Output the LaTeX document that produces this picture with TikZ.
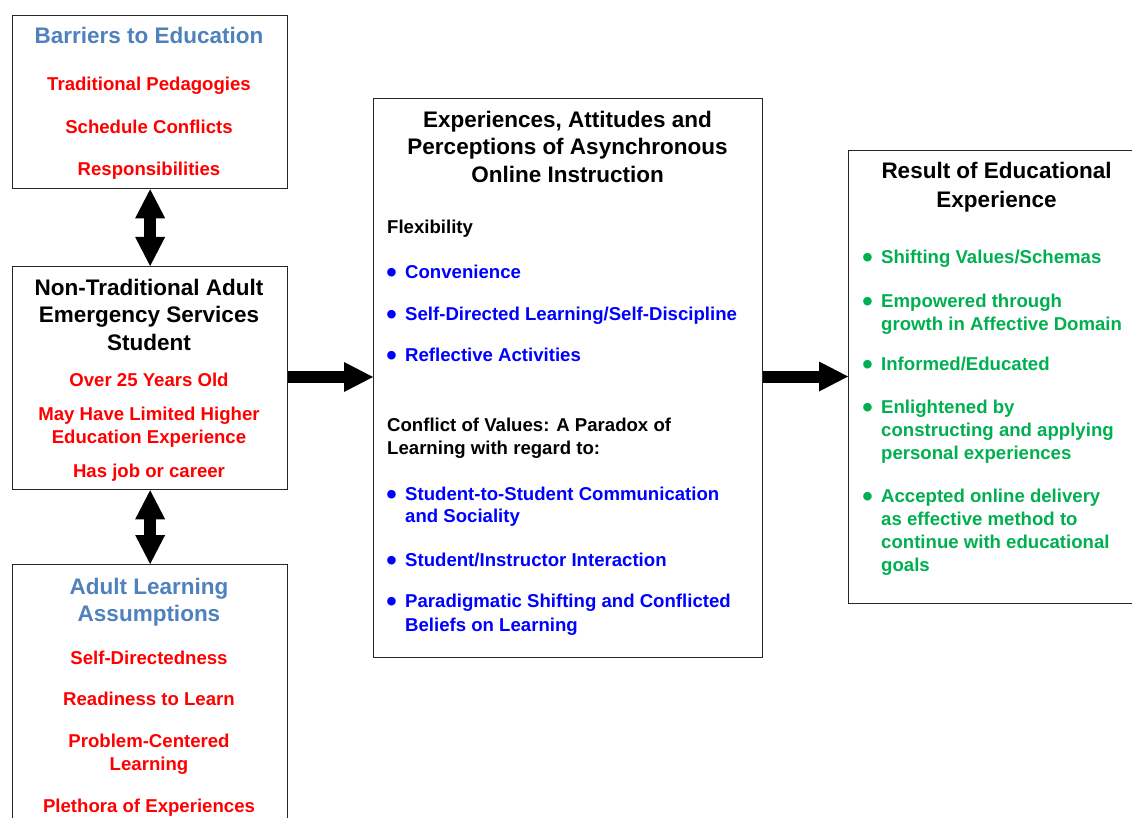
\documentclass[tikz,border=0pt]{standalone}
\usepackage{fontspec}
\usepackage{graphicx}
\setmainfont{Liberation Sans}
\usetikzlibrary{arrows.meta}
\definecolor{ttlblue}{HTML}{4F81BD}
\definecolor{itred}{HTML}{FF0000}
\definecolor{itblue}{HTML}{0000FF}
\definecolor{itgreen}{HTML}{00B050}
\begin{document}
\begin{tikzpicture}[x=1pt,y=-1pt,
  box/.style={draw=black!85,line width=1.3pt,fill=white,inner sep=0pt,anchor=north west},
  txt/.style={inner sep=0pt,text height=13pt,text depth=0pt,font=\bfseries\fontsize{18.6}{22}\selectfont},
  ttl/.style={inner sep=0pt,text height=16pt,text depth=0pt,font=\bfseries\fontsize{22.5}{27}\selectfont},
  lt/.style={txt,anchor=west},
  bul/.style={txt,anchor=west,execute at begin node={\llap{\raisebox{-4pt}{\scalebox{1.6}{\textbullet}}\hspace{8.4pt}}}},
  ctip/.tip={Triangle[length=29pt,width=30pt,line width=0pt]},
  dbl/.style={line width=12pt,ctip-ctip},
  sgl/.style={line width=12pt,-ctip}]
\useasboundingbox (0,0) rectangle (1132,818);
\clip (0,0) rectangle (1132,818);
% boxes
\node[box,minimum width=275pt,minimum height=173pt] (barriers) at (12,15) {};
\node[box,minimum width=275pt,minimum height=223pt] (nontrad) at (12,266) {};
\node[box,minimum width=275pt,minimum height=280pt] (adult) at (12,564) {};
\node[box,minimum width=389pt,minimum height=559pt] (center) at (373,98) {};
\node[box,minimum width=300pt,minimum height=453pt] (result) at (848,150) {};
% arrows
\draw[dbl] (barriers.south) -- (nontrad.north);
\draw[dbl] (nontrad.south) -- (adult.north);
\draw[sgl] (nontrad.east |- 0,377) coordinate (a1) -- (a1 -| center.west);
\draw[sgl] (center.east |- 0,376.5) coordinate (a2) -- (a2 -| result.west);
% Barriers
\node[ttl,ttlblue] (b0) at (149,36) {Barriers to Education};
\node[txt,itred] (b1) at (149,84) {Traditional Pedagogies};
\node[txt,itred] (b2) at (149,127) {Schedule Conflicts};
\node[txt,itred] (b3) at (149,169) {Responsibilities};
% Non-traditional
\node[ttl] (n0) at (149,287) {Non-Traditional Adult};
\node[ttl] (n1) at (149,314.5) {Emergency Services};
\node[ttl] (n2) at (149,342) {Student};
\node[txt,itred] (n3) at (149,379.5) {Over 25 Years Old};
\node[txt,itred] (n4) at (149,414) {May Have Limited Higher};
\node[txt,itred] (n5) at (149,436.5) {Education Experience};
\node[txt,itred] (n6) at (149,470.5) {Has job or career};
% Adult learning
\node[ttl,ttlblue] (l0) at (149,586) {Adult Learning};
\node[ttl,ttlblue] (l1) at (149,613) {Assumptions};
\node[txt,itred] (l2) at (149,657.5) {Self-Directedness};
\node[txt,itred] (l3) at (149,698.5) {Readiness to Learn};
\node[txt,itred] (l4) at (149,740.5) {Problem-Centered};
\node[txt,itred] (l5) at (149,763.5) {Learning};
\node[txt,itred] (l6) at (149,805.5) {Plethora of Experiences};
% Center
\node[ttl] (c0) at (567.5,119.5) {Experiences, Attitudes and};
\node[ttl] (c1) at (567.5,146.5) {Perceptions of Asynchronous};
\node[ttl] (c2) at (567.5,174.5) {Online Instruction};
\node[lt] (c3) at (387,227.5) {Flexibility};
\node[bul,itblue] (c4) at (405,272.5) {Convenience};
\node[bul,itblue] (c5) at (405,314) {Self-Directed Learning/Self-Discipline};
\node[bul,itblue] (c6) at (405,355) {Reflective Activities};
\node[lt] (c7) at (387,425) {Conflict of Values: A Paradox of};
\node[lt] (c8) at (387,447.5) {Learning with regard to:};
\node[bul,itblue] (c9) at (405,493.5) {Student-to-Student Communication};
\node[lt,itblue] (c10) at (405,516) {and Sociality};
\node[bul,itblue] (c11) at (405,559.5) {Student/Instructor Interaction};
\node[bul,itblue] (c12) at (405,601) {Paradigmatic Shifting and Conflicted};
\node[lt,itblue] (c13) at (405,624.5) {Beliefs on Learning};
% Result
\node[ttl] (r0) at (996.5,171) {Result of Educational};
\node[ttl] (r1) at (996.5,199.5) {Experience};
\node[bul,itgreen] (r2) at (881,257.5) {Shifting Values/Schemas};
\node[bul,itgreen] (r3) at (881,300.5) {Empowered through};
\node[lt,itgreen] (r4) at (881,323.5) {growth in Affective Domain};
\node[bul,itgreen] (r5) at (881,364) {Informed/Educated};
\node[bul,itgreen] (r6) at (881,406.5) {Enlightened by};
\node[lt,itgreen] (r7) at (881,429.5) {constructing and applying};
\node[lt,itgreen] (r8) at (881,452.5) {personal experiences};
\node[bul,itgreen] (r9) at (881,495.5) {Accepted online delivery};
\node[lt,itgreen] (r10) at (881,518.5) {as effective method to};
\node[lt,itgreen] (r11) at (881,541.5) {continue with educational};
\node[lt,itgreen] (r12) at (881,565) {goals};
\end{tikzpicture}
\end{document}
